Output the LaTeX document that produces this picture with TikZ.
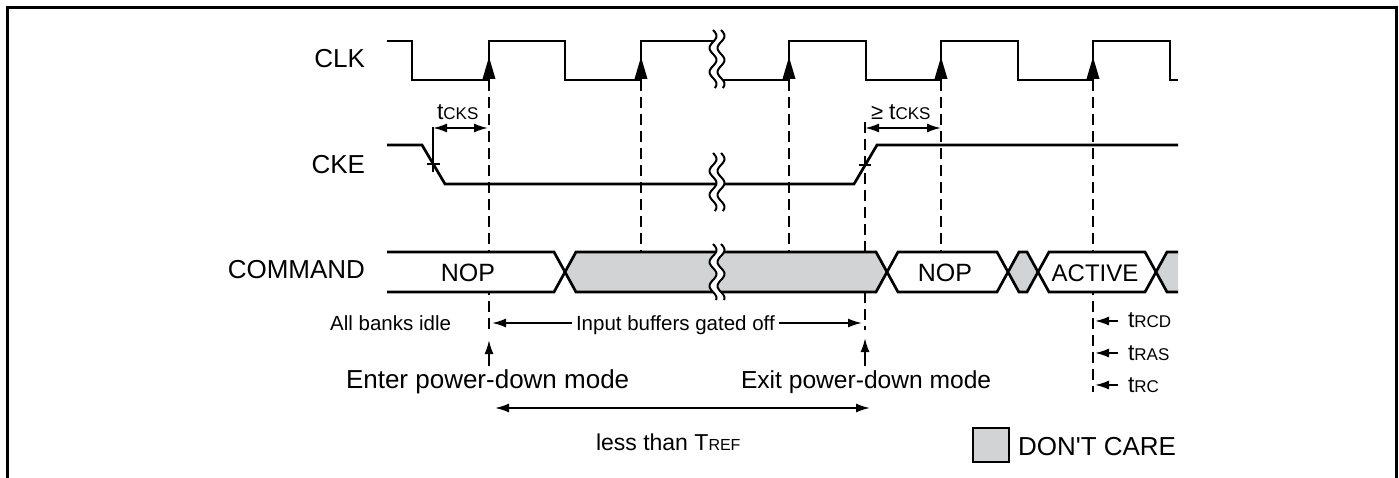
\documentclass[tikz,border=0pt]{standalone}
\usepackage{fontspec}
\setmainfont{Liberation Sans}
\usetikzlibrary{arrows.meta}
\definecolor{dcgray}{RGB}{209,211,212}
\newcommand{\fs}[1]{\fontsize{#1}{#1}\selectfont}
\newcommand{\tsub}[1]{{\fs{23}t}{\fs{17}#1}}
\newcommand{\mybreak}[3]{%
  \fill[white] plot[domain=#2:#3, samples=50, smooth] ({#1-4+3.5*sin((\x-#2)*15)},\x)
     -- plot[domain=#3:#2, samples=50, smooth] ({#1+4+3.5*sin((\x-#2)*15)},\x) -- cycle;
  \draw[line width=2pt] plot[domain=#2:#3, samples=50, smooth] ({#1-4+3.5*sin((\x-#2)*15)},\x);
  \draw[line width=2pt] plot[domain=#2:#3, samples=50, smooth] ({#1+4+3.5*sin((\x-#2)*15)},\x);
}
\begin{document}
\begin{tikzpicture}[x=1pt,y=-1pt,
  wave/.style={line width=2.7pt},
  dashln/.style={line width=2pt, dash pattern=on 11pt off 6pt},
  arr/.style={line width=1.9pt, -{Latex[length=14pt,width=9pt]}},
  dbl/.style={line width=1.9pt, {Latex[length=14pt,width=9pt]}-{Latex[length=14pt,width=9pt]}},
  fine/.style={line width=1.7pt},
  txt/.style={inner sep=0pt, outer sep=0pt}]
\useasboundingbox (0,0) rectangle (1399,478);
% frame
\draw[line width=3pt] (7,482) -- (7,8) -- (1396,8) -- (1396,482);

% named coordinates for dashed guide lines
\coordinate (d1t) at (489,80);  \coordinate (d1b) at (489,330);
\coordinate (d2t) at (641,80);  \coordinate (d2b) at (641,252);
\coordinate (d3t) at (789,80);  \coordinate (d3b) at (789,252);
\coordinate (d4t) at (865,122); \coordinate (d4b) at (865,330);
\coordinate (d5t) at (941,80);  \coordinate (d5b) at (941,252);
\coordinate (d6t) at (1093,80); \coordinate (d6b) at (1093,392);
\foreach \i in {1,...,6} {\draw[dashln] (d\i t) -- (d\i b);}

% COMMAND bus
\filldraw[wave, fill=white] (387,252) -- (554,252) -- (565,272) -- (554,292) -- (387,292);
\filldraw[wave, fill=dcgray] (565,272) -- (576,252) -- (876,252) -- (887,272) -- (876,292) -- (576,292) -- cycle;
\filldraw[wave, fill=white] (887,272) -- (898,252) -- (997,252) -- (1008,272) -- (997,292) -- (898,292) -- cycle;
\filldraw[wave, fill=dcgray] (1008,272) -- (1019,252) -- (1027,252) -- (1038,272) -- (1027,292) -- (1019,292) -- cycle;
\filldraw[wave, fill=white] (1038,272) -- (1049,252) -- (1145,252) -- (1156,272) -- (1145,292) -- (1049,292) -- cycle;
\filldraw[wave, fill=dcgray] (1178,252) -- (1167,252) -- (1156,272) -- (1167,292) -- (1178,292);

% CLK
\draw[wave] (387,41) -- (412,41) -- (412,80) -- (489,80) -- (489,41) -- (565,41) -- (565,80)
  -- (641,80) -- (641,41) -- (717,41) -- (717,80) -- (789,80) -- (789,41) -- (866,41) -- (866,80)
  -- (941,80) -- (941,41) -- (1018,41) -- (1018,80) -- (1093,80) -- (1093,41) -- (1170,41)
  -- (1170,80) -- (1178,80);
\foreach \e in {489,641,789,941,1093} {\fill (\e-6.5,79) -- (\e,57) -- (\e+6.5,79) -- cycle;}

% CKE
\draw[wave] (387,145) -- (422,145) -- (445,184) -- (854,184) -- (877,145) -- (1178,145);

% breaks
\mybreak{717}{30}{88}
\mybreak{717}{153}{211}
\mybreak{717}{244}{300}

% tCKS (setup before entry)
\coordinate (ext1t) at (433,127); \coordinate (ext1b) at (433,172);
\draw[fine] (ext1t) -- (ext1b);
\draw[fine] (427,164) -- (440,164);
\coordinate (ts1a) at (433,128); \coordinate (ts1b) at (488,128);
\draw[dbl] (ts1a) -- (ts1b);
\node[txt, anchor=base west] (tcks1) at (437,120) {\tsub{CKS}};

% >= tCKS (exit)
\draw[fine] (859,165) -- (871,165);
\coordinate (ts2a) at (865,128); \coordinate (ts2b) at (941,128);
\draw[dbl] (ts2a) -- (ts2b);
\node[txt, anchor=base west] (tcks2) at (871,120) {{\fs{22}≥ }\tsub{CKS}};

% signal labels
\node[txt, anchor=east, font=\fs{26}] (clk) at (365,59) {CLK};
\node[txt, anchor=east, font=\fs{26}] (cke) at (365,165) {CKE};
\node[txt, anchor=east, font=\fs{26}] (cmd) at (365,270) {COMMAND};
\node[txt, font=\fs{25}] (nop1) at (468,273) {NOP};
\node[txt, font=\fs{25}] (nop2) at (945,273) {NOP};
\node[txt, font=\fs{24}] (act) at (1095,273) {ACTIVE};

% input buffers gated off
\node[txt, anchor=base east, font=\fs{20.5}] (idle) at (451,330) {All banks idle};
\node[txt, anchor=base west, font=\fs{20.5}] (ibuf) at (576,330) {Input buffers gated off};
\coordinate (ibL) at (572,323); \coordinate (ibLt) at (492,323);
\coordinate (ibR) at (779,323); \coordinate (ibRt) at (862,323);
\draw[arr] (ibL) -- (ibLt);
\draw[arr] (ibR) -- (ibRt);

% enter / exit
\coordinate (enA) at (489,366); \coordinate (enT) at (489,340);
\coordinate (exA) at (865,366); \coordinate (exT) at (865,338);
\draw[arr] (enA) -- (enT);
\draw[arr] (exA) -- (exT);
\node[txt, anchor=base west, font=\fs{26}] (enter) at (346,388) {Enter power-down mode};
\node[txt, anchor=base west, font=\fs{24.6}] (exit) at (741,388) {Exit power-down mode};

% less than TREF
\coordinate (trL) at (495,408); \coordinate (trR) at (870,408);
\draw[dbl] (trL) -- (trR);
\node[txt, anchor=base west, font=\fs{23}] (tref) at (596,450) {less than T{\fs{16}REF}};

% tRCD, tRAS, tRC
\foreach \y/\n/\lab/\b in {321/rcd/RCD/327, 353/ras/RAS/360, 385/rc/RC/392} {
  \coordinate (\n a) at (1118,\y); \coordinate (\n t) at (1095,\y);
  \draw[arr] (\n a) -- (\n t);
  \node[txt, anchor=base west] (\n) at (1128,\b) {\tsub{\lab}};
}

% legend
\filldraw[fill=dcgray, line width=2.2pt] (973,428) rectangle (1009,462);
\node[txt, anchor=base west, font=\fs{26}] (dc) at (1018,455) {DON\textquotesingle T CARE};
\end{tikzpicture}
\end{document}
